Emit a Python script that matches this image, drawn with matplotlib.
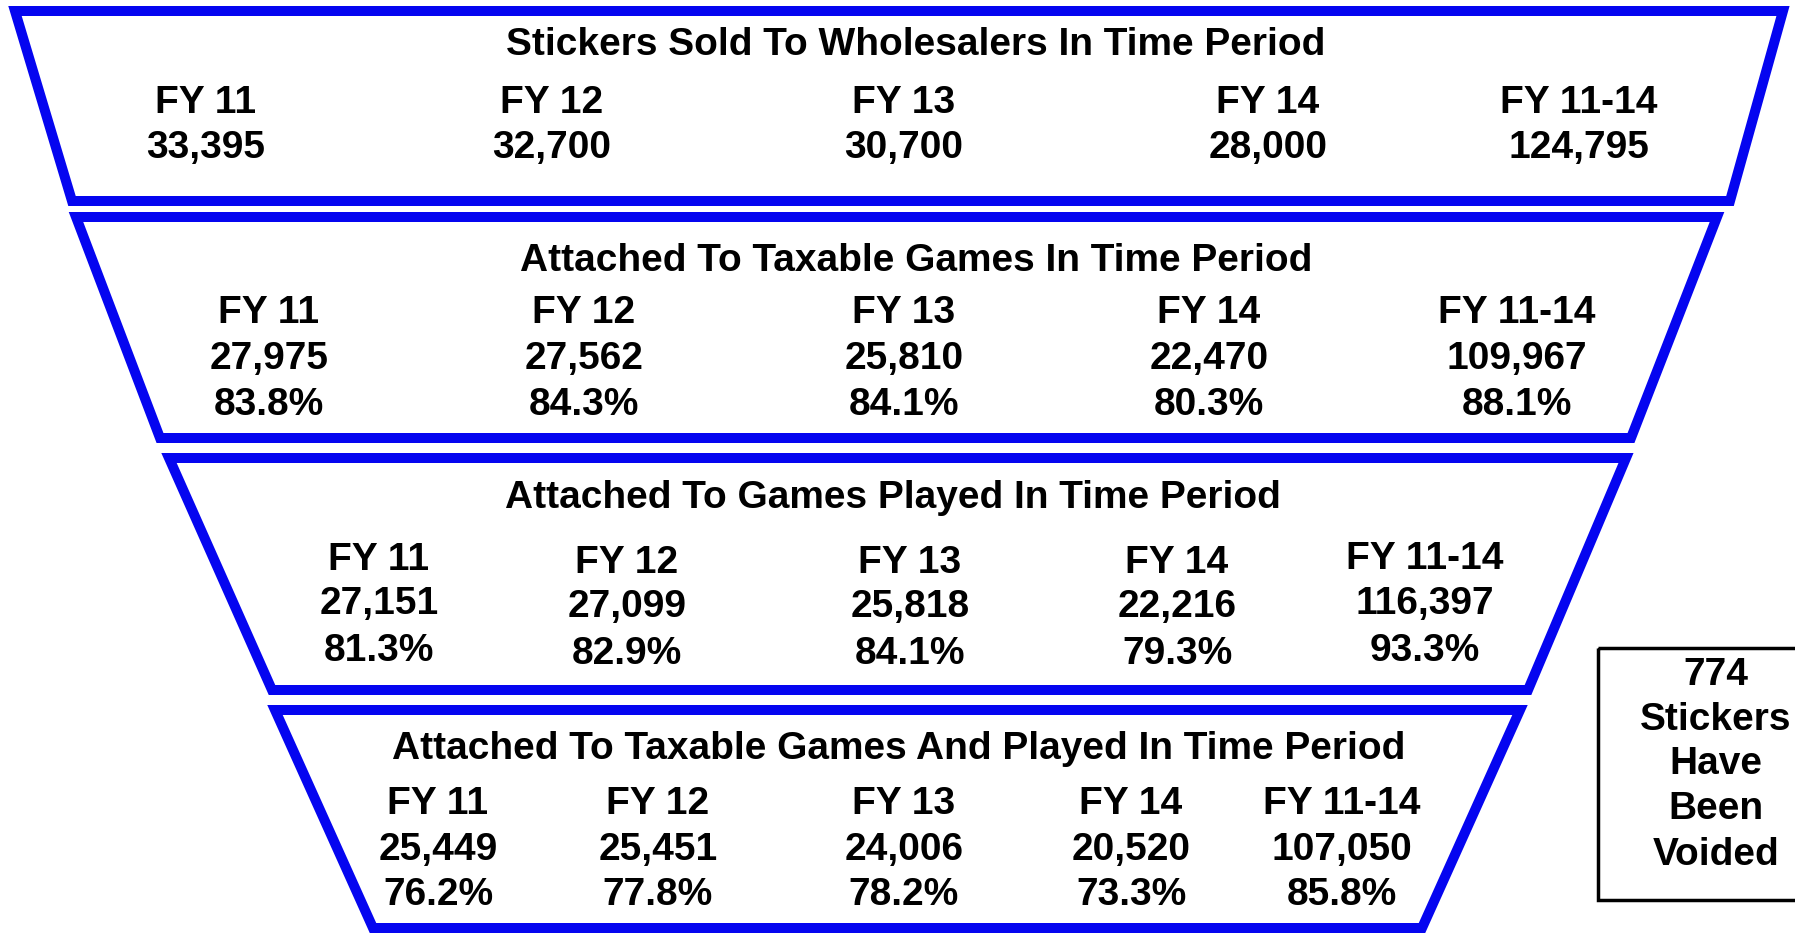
import matplotlib
matplotlib.use("Agg")
import matplotlib.pyplot as plt
from matplotlib.patches import Polygon, Rectangle

plt.rcParams['font.family'] = ['Liberation Sans', 'DejaVu Sans']

# ---- data ----
stage_titles = [
    "Stickers Sold To Wholesalers In Time Period",
    "Attached To Taxable Games In Time Period",
    "Attached To Games Played In Time Period",
    "Attached To Taxable Games And Played In Time Period",
]
periods = ["FY 11", "FY 12", "FY 13", "FY 14", "FY 11-14"]
sold_counts = [33395, 32700, 30700, 28000, 124795]
taxable_counts = [27975, 27562, 25810, 22470, 109967]
taxable_pct = [83.8, 84.3, 84.1, 80.3, 88.1]
played_counts = [27151, 27099, 25818, 22216, 116397]
played_pct = [81.3, 82.9, 84.1, 79.3, 93.3]
both_counts = [25449, 25451, 24006, 20520, 107050]
both_pct = [76.2, 77.8, 78.2, 73.3, 85.8]
voided_count = 774
voided_label = ["Stickers", "Have", "Been", "Voided"]

stage_counts = [sold_counts, taxable_counts, played_counts, both_counts]
stage_pcts = [None, taxable_pct, played_pct, both_pct]

# ---- layout (pixels) ----
W, H = 1795, 933
fig = plt.figure(figsize=(W / 100, H / 100), dpi=100)
ax = fig.add_axes([0, 0, 1, 1])
ax.set_xlim(0, W)
ax.set_ylim(H, 0)
ax.axis('off')

blue = '#0505F0'
trapezoids = [
    [(15, 11), (1783, 11), (1730, 201), (72, 201)],
    [(76, 217), (1717, 217), (1631, 438), (160, 438)],
    [(169, 458), (1626, 458), (1528, 690), (272, 690)],
    [(275, 710), (1520, 710), (1422, 928), (373, 928)],
]
for pts in trapezoids:
    ax.add_patch(Polygon(pts, closed=True, fill=False, edgecolor=blue,
                         linewidth=7.2, joinstyle='miter'))

dy = 3
title_y = [42, 258, 495, 746]
title_x = [916, 916, 893, 899]
col_x = [
    [206, 552, 904, 1268, 1579],
    [269, 584, 904, 1209, 1517],
    [379, 627, 910, 1177, 1425],
    [438, 658, 904, 1131, 1342],
]
row_y = [
    [[100, 145]] * 5,
    [[310, 356, 402]] * 5,
    [[557, 601, 648], [560, 604, 651], [560, 604, 651], [560, 604, 651], [556, 601, 648]],
    [[801, 847, 892]] * 5,
]
fs = 28
for s in range(4):
    ax.text(title_x[s], title_y[s] + dy, stage_titles[s], ha='center', va='center',
            fontsize=fs, fontweight='bold')
    for i, p in enumerate(periods):
        lines = [p, f"{stage_counts[s][i]:,}"]
        if stage_pcts[s] is not None:
            lines.append(f"{stage_pcts[s][i]:.1f}%")
        for ln, y in zip(lines, row_y[s][i]):
            ax.text(col_x[s][i], y + dy, ln, ha='center', va='center',
                    fontsize=fs, fontweight='bold')

# voided box
ax.add_patch(Rectangle((1598, 648), 260, 252, fill=False, edgecolor='black',
                       linewidth=2.5))
box_lines = [str(voided_count)] + voided_label
for ln, y in zip(box_lines, [672, 717, 761, 806, 852]):
    ax.text(1716, y + dy, ln, ha='center', va='center', fontsize=fs, fontweight='bold')

fig.savefig('out.png', dpi=100, facecolor='white')
